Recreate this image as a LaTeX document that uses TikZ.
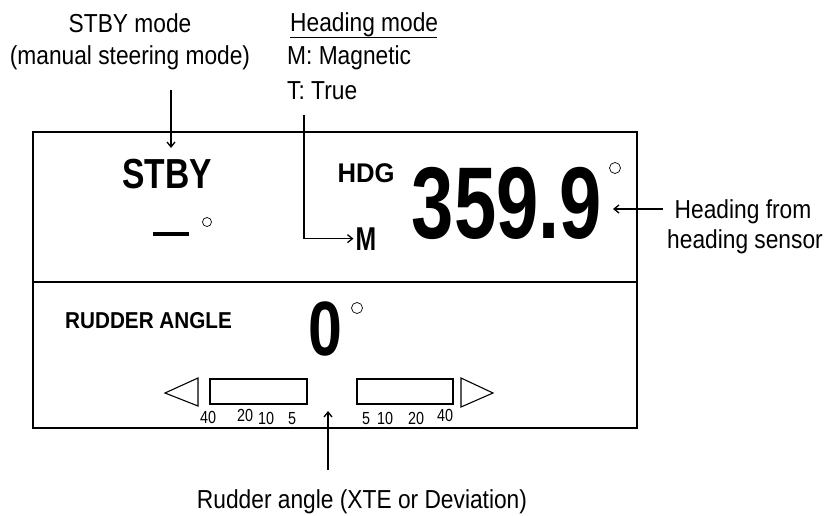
\documentclass[tikz,border=0pt]{standalone}
\usepackage{fontspec}
\setmainfont{Liberation Sans}
\newfontfamily\regf[FakeStretch=0.875]{Liberation Sans}
\newfontfamily\numf[FakeStretch=0.82]{Liberation Sans}
\usetikzlibrary{arrows.meta}
\newcommand{\bsz}[3]{\scalebox{#2}[1]{\fontsize{#1}{#1}\selectfont\bfseries #3}}
\begin{document}
\begin{tikzpicture}[x=1pt,y=-1pt,
  lbl/.style={inner sep=0pt,font=\regf\fontsize{26}{26}\selectfont},
  bld/.style={inner sep=0pt},
  num/.style={inner sep=0pt,font=\numf\fontsize{17.5}{17.5}\selectfont},
  frame/.style={line width=1.8pt},
  scalebox/.style={line width=1.1pt},
  ptr/.style={line width=1.5pt,-{Straight Barb[length=5pt,width=8pt,line width=1.3pt]}},
  deg/.style={line width=0.7pt}]
\useasboundingbox (0,0) rectangle (829,516);
% frame
\draw[frame] (33,132) rectangle (637,428);
\draw[frame] (33,282) -- (637,282);
% top labels
\node[lbl,anchor=base] (stbymode) at (130,33) {STBY mode};
\node[lbl,anchor=base] (manual) at (130,65) {(manual steering mode)};
\node[lbl,anchor=base west] (hmode) at (290,32) {Heading mode};
\draw[line width=1pt] (290,38) -- (437,38);
\node[lbl,anchor=base west] (mmag) at (287,65) {M: Magnetic};
\node[lbl,anchor=base west] (ttrue) at (287,100) {T: True};
% STBY
\node[bld,anchor=base] (stby) at (167,188) {\bsz{42}{0.80}{STBY}};
\coordinate (stbytop) at (171,90);
\coordinate (stbytip) at (171,148);
\draw[ptr] (stbytop) -- (stbytip);
\draw[line width=4pt] (153,234) -- (189,234);
\draw[deg] (207,222) circle (4.5);
% HDG
\node[bld,anchor=base] (hdg) at (366,182) {\bsz{27}{0.95}{HDG}};
\node[bld,anchor=base] (m) at (366,250) {\bsz{33}{0.75}{M}};
\coordinate (mtop) at (304,115);
\draw[ptr] (mtop) |- ([xshift=-2pt]m.west);
\node[bld,anchor=base] (hval) at (507,238) {\bsz{102}{0.745}{359.9}};
\draw[deg] (615,168) circle (5.5);
\node[lbl,anchor=base] (hfrom) at (743,218) {Heading from};
\node[lbl,anchor=base] (hsens) at (745,248) {heading sensor};
\coordinate (harrtail) at (663,209);
\coordinate (harrtip) at (613,209);
\draw[ptr] (harrtail) -- (harrtip);
% rudder
\node[bld,anchor=base west] (rudder) at (65,328) {\bsz{23}{0.9}{RUDDER ANGLE}};
\node[bld,anchor=base] (zero) at (325,355) {\bsz{77}{0.79}{0}};
\draw[deg] (357,308) circle (5.5);
\draw[scalebox] (198,378) -- (165,393) -- (198,406) -- cycle;
\draw[scalebox] (210,379) rectangle (307,404);
\draw[scalebox] (357,379) rectangle (453,404);
\draw[scalebox] (461,378) -- (493,393) -- (461,407) -- cycle;
\node[num,anchor=base] (l40) at (208,423) {40};
\node[num,anchor=base] (l20) at (245,421) {20};
\node[num,anchor=base] (l10) at (266,424) {10};
\node[num,anchor=base] (l5) at (292,424) {5};
\node[num,anchor=base] (r5) at (366,424) {5};
\node[num,anchor=base] (r10) at (385,424) {10};
\node[num,anchor=base] (r20) at (416,424) {20};
\node[num,anchor=base] (r40) at (445,421) {40};
\coordinate (rudtail) at (328,470);
\coordinate (rudtip) at (328,411);
\draw[ptr] (rudtail) -- (rudtip);
\node[lbl,anchor=base] (rudlbl) at (362,508) {Rudder angle (XTE or Deviation)};
\end{tikzpicture}
\end{document}
